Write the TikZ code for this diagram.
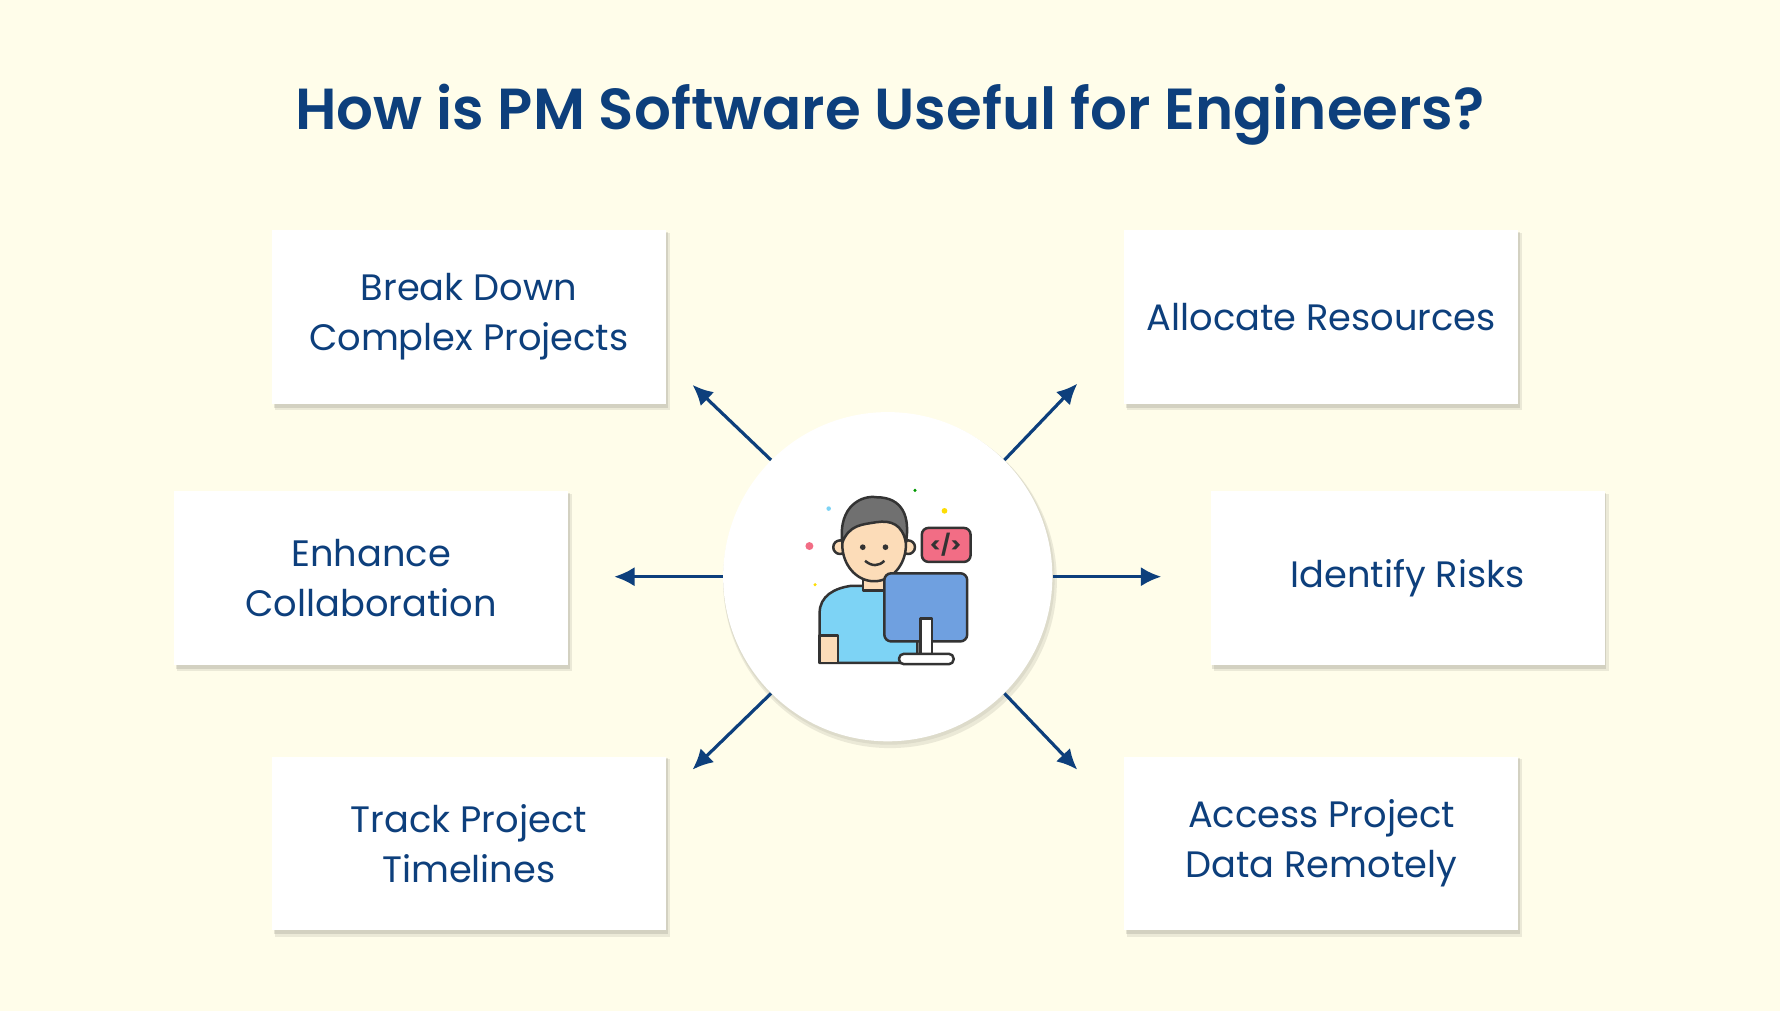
\documentclass[tikz,border=0pt]{standalone}
\usepackage{fontspec}
\setmainfont{Poppins}
\newfontfamily\titlefont{Poppins SemiBold}
\definecolor{bg}{HTML}{FFFDEA}
\definecolor{navy}{HTML}{0D3F7C}
\definecolor{shirt}{HTML}{7DD3F5}
\definecolor{mon}{HTML}{6FA0E0}
\definecolor{skin}{HTML}{FCDCB8}
\definecolor{hair}{HTML}{707070}
\definecolor{pinkc}{HTML}{F26D85}
\definecolor{ink}{HTML}{333333}
\begin{document}
\begin{tikzpicture}[x=0.5pt,y=-0.5pt,
 card/.style={fill=white,minimum width=173.5pt,minimum height=76.5pt,align=center,font=\fontsize{16.2}{22}\selectfont,text=navy},
 arr/.style={navy,line width=1.4pt,-{Latex[length=9pt,width=8.5pt]}},
 ic/.style={draw=ink,line width=1.1pt,line join=round}]
\usetikzlibrary{arrows.meta}
\fill[bg] (0,0) rectangle (1568,891);
\useasboundingbox (0,0) rectangle (1568,891);
\node[font=\fontsize{25.5}{28}\selectfont\titlefont,text=navy] (title) at (784,101) {How is PM Software Useful for Engineers?};
\foreach \n/\x/\y/\t in {a/413/279/{Break Down\\Complex Projects},b/1164/279/{Allocate Resources},c/327/509/{Enhance\\Collaboration},d/1240/509/{Identify Risks},e/413/743/{Track Project\\Timelines},f/1164/743/{Access Project\\Data Remotely}}{
 \fill[black,opacity=0.08] (\x-171,\y-74) rectangle (\x+177,\y+82);
 \fill[black,opacity=0.10] (\x-172,\y-75) rectangle (\x+175,\y+80);
 \node[card] (\n) at (\x,\y) {\t};
}
\fill[black,opacity=0.08] (784,512) circle (147);
\fill[black,opacity=0.06] (783,510) circle (146);
\node[circle,fill=white,minimum size=145pt,inner sep=0] (ctr) at (782,508) {};
\coordinate (a1) at (610,339); \coordinate (b1) at (949,338);
\coordinate (c1) at (541,508); \coordinate (d1) at (1023,508);
\coordinate (e1) at (610,678); \coordinate (f1) at (949,678);
\draw[arr] (ctr.135) -- (a1);
\draw[arr] (ctr.45) -- (b1);
\draw[arr] (ctr.180) -- (c1);
\draw[arr] (ctr.0) -- (d1);
\draw[arr] (ctr.225) -- (e1);
\draw[arr] (ctr.315) -- (f1);
% icon
\filldraw[ic,fill=shirt] (722,584) -- (722,540) .. controls (722,525) and (735,518) .. (750,516) -- (790,516) .. controls (800,518) and (806,525) .. (808,540) -- (808,584) -- cycle;
\filldraw[ic,fill=skin] (722,584) rectangle (738,560);
\filldraw[ic,fill=skin] (760,505) rectangle (780,520);
\filldraw[ic,fill=skin] (740,482) circle (6);
\filldraw[ic,fill=skin] (800,482) circle (6);
\filldraw[ic,fill=skin] (770,480) ellipse (28 and 32);
\filldraw[ic,fill=hair] (742,478) .. controls (738,445) and (760,436) .. (772,438) .. controls (795,438) and (802,455) .. (798,478) .. controls (795,462) and (785,458) .. (772,460) .. controls (760,462) and (748,462) .. (742,478) -- cycle;
\fill[ink] (760,482) circle (2.5); \fill[ink] (780,482) circle (2.5);
\draw[ink,line width=1.1pt] (762,494) .. controls (768,499) and (774,499) .. (779,494);
\filldraw[ic,fill=mon,rounded corners=3pt] (779,505) rectangle (852,565);
\filldraw[ic,fill=white] (811,545) rectangle (821,578);
\filldraw[ic,fill=white,rounded corners=2pt] (792,576) rectangle (840,585);
\filldraw[ic,fill=pinkc,rounded corners=3pt] (812,465) rectangle (855,495);
\node[font=\bfseries\fontsize{9}{9}\selectfont,text=ink] (code) at (833,480) {</>};
\fill[pinkc] (713,481) circle (3.5);
\fill[yellow!80!orange] (832,450) circle (2.5);
\fill[shirt] (730,448) circle (2);
\fill[green!60!black] (806,432) circle (1.5);
\fill[yellow!80!orange] (718,515) circle (1.5);
\end{tikzpicture}
\end{document}
